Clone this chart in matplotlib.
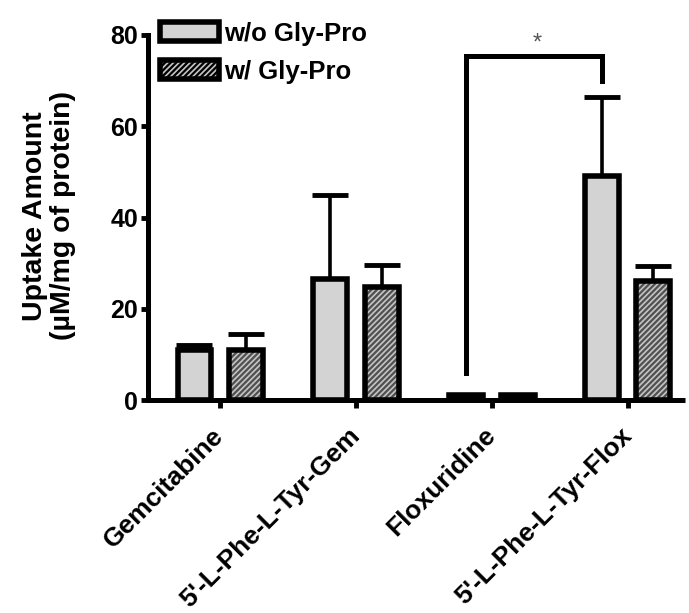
import matplotlib
matplotlib.use("Agg")
import matplotlib.pyplot as plt
import numpy as np
from matplotlib.patches import Patch

plt.rcParams['font.family'] = ['Liberation Sans', 'DejaVu Sans']
plt.rcParams['font.weight'] = 'bold'
plt.rcParams['hatch.linewidth'] = 1.6

categories = ["Gemcitabine", "5'-L-Phe-L-Tyr-Gem", "Floxuridine", "5'-L-Phe-L-Tyr-Flox"]
without_gp = [11.0, 26.5, 1.2, 49.0]
without_err = [1.0, 18.5, 0.0, 17.5]
with_gp = [11.0, 24.8, 1.2, 26.0]
with_err = [3.5, 4.8, 0.0, 3.4]
series_labels = ["w/o Gly-Pro", "w/ Gly-Pro"]
yticks = [0, 20, 40, 60, 80]

W, H = 689, 613
fig = plt.figure(figsize=(W/100, H/100), dpi=100)
ax = fig.add_axes([148/W, 1-400/H, (685-148)/W, 365/H])

x = np.arange(len(categories))
bw = 0.25
off = 0.188
edge_lw = 4.0

# w/o bars
ax.bar(x - off, without_gp, bw, color='#d3d3d3', edgecolor='black', linewidth=edge_lw, zorder=3)
# w/ bars: hatch layer then outline
ax.bar(x + off, with_gp, bw, color='#c4c4c4', edgecolor='#505050', hatch='//////', linewidth=0, zorder=3)
ax.bar(x + off, with_gp, bw, color='none', edgecolor='black', linewidth=edge_lw, zorder=4)

ax.errorbar(x - off, without_gp, yerr=[np.zeros(4), without_err], fmt='none', ecolor='black',
            elinewidth=2.6, capsize=13, capthick=3.5, zorder=2)
ax.errorbar(x + off, with_gp, yerr=[np.zeros(4), with_err], fmt='none', ecolor='black',
            elinewidth=2.6, capsize=13, capthick=3.5, zorder=2)

# significance bracket
x1, x2 = 2 - off, 3 - off
ax.plot([x1, x1, x2, x2], [5.9, 75.4, 75.4, 70.0], color='black', lw=3.6,
        solid_joinstyle='miter', zorder=5, clip_on=False)
ax.text(2.33, 78.2, '*', ha='center', va='center', fontsize=17, color='#555555',
        fontweight='normal')

ax.set_xlim(-0.53, 3.42)
ax.set_ylim(0, 80)
ax.set_yticks(yticks)
ax.set_yticklabels([str(t) for t in yticks], fontsize=18, fontweight='bold')
ax.set_xticks(x)
ax.set_xticklabels(categories, rotation=45, ha='right', va='center', rotation_mode='anchor',
                   fontsize=19, fontweight='bold')
ax.tick_params(axis='both', direction='out', width=3.5, length=5, pad=2)
ax.tick_params(axis='x', length=6, pad=17)
for s in ['top', 'right']:
    ax.spines[s].set_visible(False)
for s in ['left', 'bottom']:
    ax.spines[s].set_linewidth(3.6)
ax.spines['bottom'].set_capstyle('butt')

fig.text(49/W, 1-216/H, 'Uptake Amount\n(µM/mg of protein)', rotation=90, ha='center', va='center',
         fontsize=20.5, fontweight='bold', multialignment='center', linespacing=1.1)

handles = [Patch(facecolor='#d3d3d3', edgecolor='black', linewidth=edge_lw),
           Patch(facecolor='#c4c4c4', edgecolor='black', linewidth=edge_lw, hatch='//////')]
leg = ax.legend(handles, series_labels, loc='upper left', bbox_to_anchor=(0.003, 1.065),
                frameon=False, fontsize=18.5, handlelength=2.3, handleheight=0.75,
                handletextpad=0.2, labelspacing=0.55, borderaxespad=0)
for t in leg.get_texts():
    t.set_fontweight('bold')

fig.savefig('out.png', dpi=100)
